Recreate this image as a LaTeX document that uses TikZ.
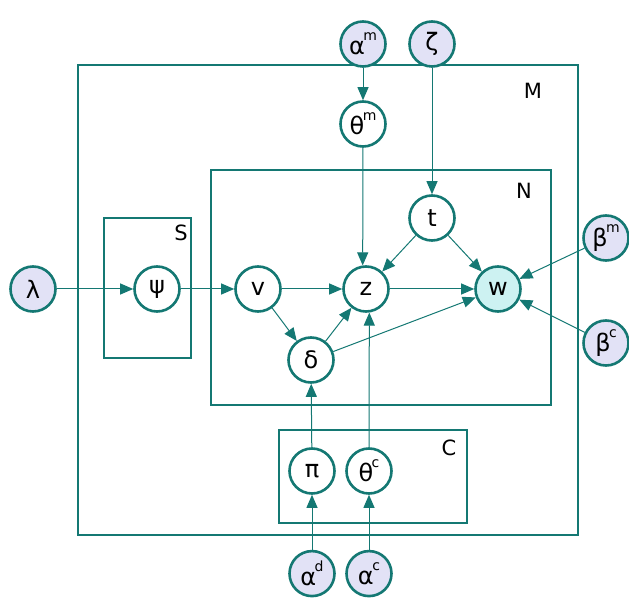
\documentclass[tikz,border=0pt]{standalone}
\usepackage{fontspec}
\setmainfont{DejaVu Sans}
\usetikzlibrary{arrows.meta,positioning}
\definecolor{edge}{RGB}{20,120,115}
\definecolor{hyper}{RGB}{226,226,246}
\definecolor{seen}{RGB}{205,242,242}
\newcommand{\supx}[2]{#1\kern-1.5pt\raisebox{1.05ex}{\fontsize{14}{14}\selectfont #2}}

\begin{document}
\begin{tikzpicture}[x=1pt,y=-1pt,
  node distance=55pt,
  var/.style={circle,draw=edge,line width=2.6pt,minimum size=45pt,inner sep=0pt,fill=white,font=\fontsize{24}{24}\selectfont},
  hyp/.style={var,fill=hyper},
  obs/.style={var,fill=seen},
  plate/.style={draw=edge,line width=1.1pt},
  lab/.style={inner sep=0pt,font=\fontsize{21}{21}\selectfont},
  arr/.style={-{Triangle[length=13pt,width=11pt]},draw=edge,line width=1pt}]
  \useasboundingbox (0,0) rectangle (629,601);
  % plates
  \draw[plate] (78,65) rectangle (578,535);
  \draw[plate] (211,170) rectangle (551,405);
  \draw[plate,line width=2.2pt] (104,218) rectangle (191,358);
  \draw[plate] (279,430) rectangle (467,523);
  \node[lab] (lM) at (533,91) {M};
  \node[lab] (lN) at (524,191) {N};
  \node[lab] (lS) at (181,233) {S};
  \node[lab] (lC) at (449,448) {C};
  % variables
  \node[hyp] (lam) at (33,289) {λ};
  \node[var] (psi) at (157,289) {ψ};
  \node[var] (v) at (258,289) {v};
  \node[var] (z) at (366,289) {z};
  \node[obs] (w) at (498,289) {w};
  \node[var] (t) at (432,218) {t};
  \node[var] (del) at (311,360) {δ};
  \node[var] (pi) at (312,471) {π};
  \node[var] (thc) at (369,471) {\supx{θ}{c}};
  \node[hyp,below=55pt of pi] (ad) {\supx{α}{d}};
  \node[hyp,below=55pt of thc] (ac) {\supx{α}{c}};
  \node[var] (thm) at (363,124) {\supx{θ}{m}};
  \node[hyp] (am) at (363,44) {\supx{α}{m}};
  \node[hyp] (zeta) at (432,44) {ζ};
  \node[hyp] (bm) at (606,238) {\supx{β}{m}};
  \node[hyp] (bc) at (606,343) {\supx{β}{c}};
  % edges
  \draw[arr] (lam) -- (psi);
  \draw[arr] (psi) -- (v);
  \draw[arr] (v) -- (z);
  \draw[arr] (v) -- (del);
  \draw[arr] (am) -- (thm);
  \draw[arr] (thm) -- (z.98);
  \draw[arr] (zeta) -- (t);
  \draw[arr] (t) -- (z);
  \draw[arr] (t) -- (w);
  \draw[arr] (z) -- (w);
  \draw[arr] (del) -- (z);
  \draw[arr] (del) -- (w);
  \draw[arr] (thc) -- (z.-82);
  \draw[arr] (pi) -- (del);
  \draw[arr] (ad) -- (pi);
  \draw[arr] (ac) -- (thc);
  \draw[arr] (bm) -- (w);
  \draw[arr] (bc) -- (w);
\end{tikzpicture}
\end{document}
